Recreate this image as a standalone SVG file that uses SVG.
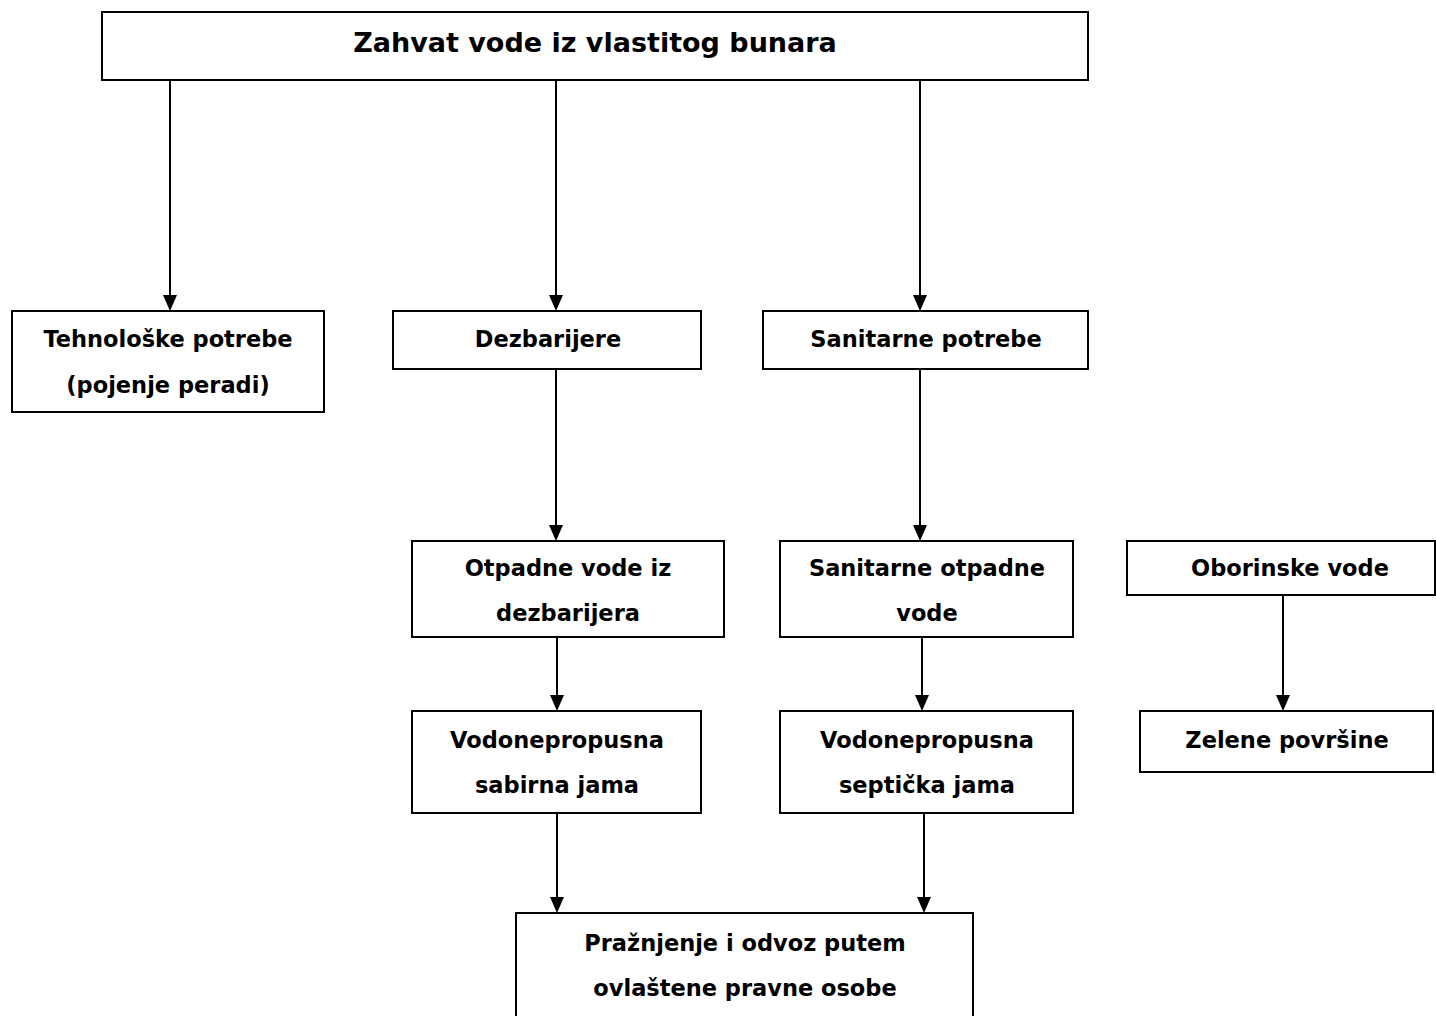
<svg xmlns="http://www.w3.org/2000/svg" width="1436" height="1016" viewBox="0 0 1436 1016">
<defs>
<style>
.box{fill:#fff;stroke:#000;stroke-width:2}
.t{font-family:"DejaVu Sans",Verdana,sans-serif;font-weight:bold;font-size:22.5px;fill:#000;text-anchor:middle}
.tt{font-size:27px}
.c{stroke:#000;stroke-width:2;fill:none}
.h{fill:#000}
</style>
</defs>
<rect width="1436" height="1016" fill="#fff"/>
<g id="connectors">
<line class="c" x1="170" y1="81" x2="170" y2="295"/>
<path class="h" d="M163,295 L177,295 L170,311 Z"/>
<line class="c" x1="556" y1="81" x2="556" y2="295"/>
<path class="h" d="M549,295 L563,295 L556,311 Z"/>
<line class="c" x1="920" y1="81" x2="920" y2="295"/>
<path class="h" d="M913,295 L927,295 L920,311 Z"/>
<line class="c" x1="556" y1="370" x2="556" y2="525"/>
<path class="h" d="M549,525 L563,525 L556,541 Z"/>
<line class="c" x1="920" y1="370" x2="920" y2="525"/>
<path class="h" d="M913,525 L927,525 L920,541 Z"/>
<line class="c" x1="557" y1="638" x2="557" y2="695"/>
<path class="h" d="M550,695 L564,695 L557,711 Z"/>
<line class="c" x1="922" y1="638" x2="922" y2="695"/>
<path class="h" d="M915,695 L929,695 L922,711 Z"/>
<line class="c" x1="1283" y1="596" x2="1283" y2="695"/>
<path class="h" d="M1276,695 L1290,695 L1283,711 Z"/>
<line class="c" x1="557" y1="814" x2="557" y2="897"/>
<path class="h" d="M550,897 L564,897 L557,913 Z"/>
<line class="c" x1="924" y1="814" x2="924" y2="897"/>
<path class="h" d="M917,897 L931,897 L924,913 Z"/>
</g>
<g id="n-zahvat">
<rect class="box" x="102" y="12" width="986" height="68"/>
<text class="t tt" x="595" y="52">Zahvat vode iz vlastitog bunara</text>
</g>
<g id="n-tehnoloske">
<rect class="box" x="12" y="311" width="312" height="101"/>
<text class="t" x="168" y="347">Tehnološke potrebe</text>
<text class="t" x="168" y="393">(pojenje peradi)</text>
</g>
<g id="n-dezbarijere">
<rect class="box" x="393" y="311" width="308" height="58"/>
<text class="t" x="548" y="347">Dezbarijere</text>
</g>
<g id="n-sanitarne-potrebe">
<rect class="box" x="763" y="311" width="325" height="58"/>
<text class="t" x="926" y="347">Sanitarne potrebe</text>
</g>
<g id="n-otpadne">
<rect class="box" x="412" y="541" width="312" height="96"/>
<text class="t" x="568" y="576">Otpadne vode iz</text>
<text class="t" x="568" y="621">dezbarijera</text>
</g>
<g id="n-sanitarne-otpadne">
<rect class="box" x="780" y="541" width="293" height="96"/>
<text class="t" x="927" y="576">Sanitarne otpadne</text>
<text class="t" x="927" y="621">vode</text>
</g>
<g id="n-oborinske">
<rect class="box" x="1127" y="541" width="308" height="54"/>
<text class="t" x="1290" y="576">Oborinske vode</text>
</g>
<g id="n-sabirna">
<rect class="box" x="412" y="711" width="289" height="102"/>
<text class="t" x="557" y="748">Vodonepropusna</text>
<text class="t" x="557" y="793">sabirna jama</text>
</g>
<g id="n-septicka">
<rect class="box" x="780" y="711" width="293" height="102"/>
<text class="t" x="927" y="748">Vodonepropusna</text>
<text class="t" x="927" y="793">septička jama</text>
</g>
<g id="n-zelene">
<rect class="box" x="1140" y="711" width="293" height="61"/>
<text class="t" x="1287" y="748">Zelene površine</text>
</g>
<g id="n-praznjenje">
<rect class="box" x="516" y="913" width="457" height="110"/>
<text class="t" x="745" y="951">Pražnjenje i odvoz putem</text>
<text class="t" x="745" y="996">ovlaštene pravne osobe</text>
</g>
</svg>
